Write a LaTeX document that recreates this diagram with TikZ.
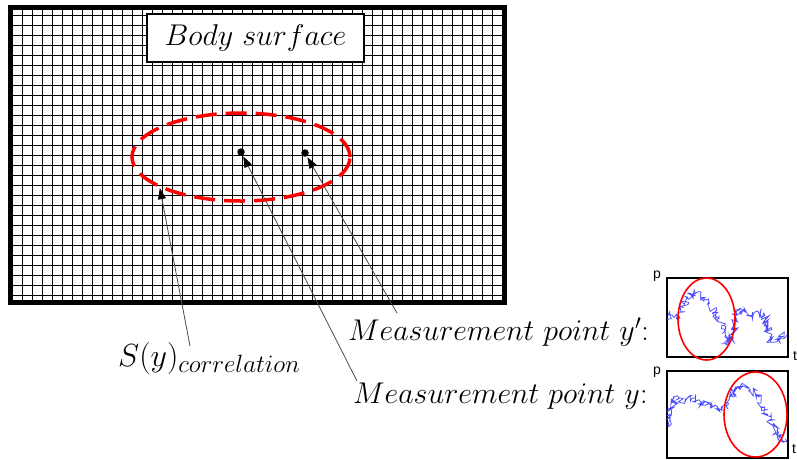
\documentclass[tikz,border=0pt]{standalone}
\usepackage{fix-cm}
\usepackage{fontspec}
\newfontfamily\arialf{Liberation Sans}
\usetikzlibrary{arrows.meta,decorations.pathmorphing,shapes.geometric}
\tikzset{
  gridline/.style={black, line width=1.75pt},
  frameline/.style={black, line width=5pt},
  ptr/.style={draw=black!70, line width=0.8pt, -{Triangle[length=11pt,width=8pt,black]}},
  dotnode/.style={circle, fill=black, inner sep=0pt, minimum size=7.5pt},
  bigtxt/.style={anchor=base west, inner sep=0pt, font=\fontsize{30}{34}\selectfont},
  axlbl/.style={inner sep=0pt, font=\arialf\fontsize{14}{16}\selectfont},
  chartbox/.style={draw=black, line width=1.3pt},
  signal/.style={draw=blue!70!white, line width=0.75pt, decorate,
     decoration={random steps, segment length=1.1pt, amplitude=4pt}},
  redell/.style={draw=red, line width=1.6pt}
}
\begin{document}
\begin{tikzpicture}[x=1pt,y=-1pt]
\useasboundingbox (0,0) rectangle (797,459);
\fill[white] (0,0) rectangle (797,459);
% grid
\foreach \i in {0,...,49} \draw[gridline] ({12.5+10*\i},7.5) -- ({12.5+10*\i},302.5);
\foreach \j in {0,...,28} \draw[gridline] (10,{15.5+10*\j}) -- (504.5,{15.5+10*\j});
\draw[frameline] (10,7.5) rectangle (504.5,302.5);
% title box
\node[draw=black, line width=2pt, fill=white, minimum width=217pt, minimum height=48pt, inner sep=0pt,
      font=\fontsize{30}{34}\selectfont] (body) at (255.5,38) {$Body\ surface$};
% correlation region
\node[ellipse, draw=red, line width=3.5pt, dash pattern=on 21pt off 9pt, minimum width=218pt,
      minimum height=88pt, inner sep=0pt] (corr) at (241,157) {};
\node[dotnode] (yd) at (241,152) {};
\node[dotnode] (ypd) at (305,153) {};
% labels
\node[bigtxt] (lyp) at (348,340) {$Measurement\ point\ y'$:};
\node[bigtxt] (ly) at (353,403) {$Measurement\ point\ y$:};
\node[anchor=base west, inner sep=0pt] (ls) at (118,366)
  {\fontsize{32}{36}\selectfont$S(y)$\raisebox{-6pt}{\fontsize{25}{28}\selectfont$correlation$}};
% arrows
\coordinate (sfrom) at (190,346);
\coordinate (yfrom) at (357,381);
\coordinate (ypfrom) at (397,313);
\draw[ptr] (sfrom) -- (corr.201);
\draw[ptr, shorten >=1pt] (yfrom) -- (yd);
\draw[ptr, shorten >=1pt] (ypfrom) -- (ypd);
% charts
\node[chartbox, minimum width=121pt, minimum height=79pt, inner sep=0pt] (c1) at (727.5,317.5) {};
\node[chartbox, minimum width=121pt, minimum height=87pt, inner sep=0pt] (c2) at (727.5,414.5) {};
\node[axlbl] (p1) at (657,276) {p};
\node[axlbl] (t1) at (795,356) {t};
\node[axlbl] (p2) at (657,372) {p};
\node[axlbl] (t2) at (794,449) {t};
\pgfmathsetseed{7}
\draw[signal] (668,320) -- (672,315) -- (680,318) -- (686,300) -- (693,293) -- (700,296) -- (708,300)
  -- (715,312) -- (722,325) -- (728,345) -- (732,340) -- (736,312) -- (745,312) -- (752,316)
  -- (760,313) -- (766,318) -- (770,342) -- (778,340) -- (787,335);
\draw[signal] (668,425) -- (671,415) -- (674,398) -- (685,400) -- (695,398) -- (702,405) -- (712,405)
  -- (722,410) -- (728,405) -- (734,390) -- (742,386) -- (750,390) -- (757,395) -- (765,410)
  -- (772,425) -- (778,435) -- (787,442);
\draw[redell] (706.5,319) ellipse [x radius=28.5pt, y radius=41pt];
\draw[redell] (755.5,414.5) ellipse [x radius=31.5pt, y radius=42.5pt];
\end{tikzpicture}
\end{document}
